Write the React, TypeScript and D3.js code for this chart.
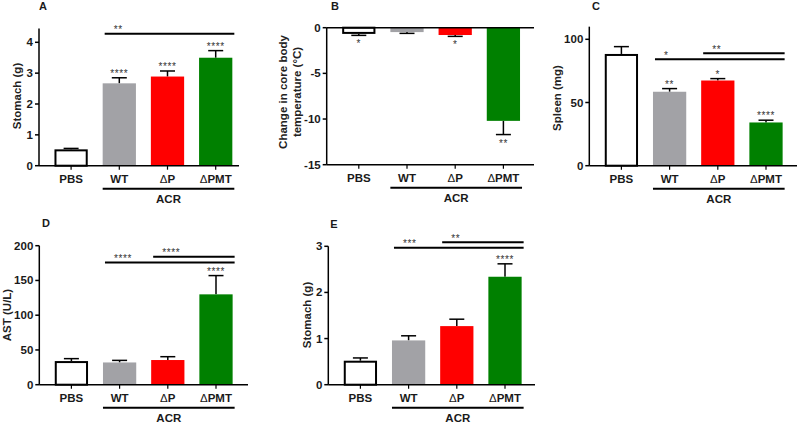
import React from "react";
import * as d3 from "d3";

// ---------- DATA ----------
const groups = ["PBS", "WT", "ΔP", "ΔPMT"];
const barColors = ["#ffffff", "#a2a2a6", "#ff0000", "#008000"];

const stomachA = [0.53, 2.67, 2.89, 3.5];
const stomachAErr = [0.03, 0.18, 0.18, 0.23];
const starsA = ["", "****", "****", "****"];
const ticksA = [0, 1, 2, 3, 4];

const tempB = [-0.68, -0.48, -0.8, -10.2];
const tempBErr = [0.16, 0.14, 0.15, 1.5];
const starsB = ["*", "", "*", "**"];
const ticksB = [0, -5, -10, -15];

const spleenC = [88.4, 58.5, 67.4, 34.2];
const spleenCErr = [5.8, 2.5, 1.5, 1.8];
const starsC = ["", "**", "*", "****"];
const ticksC = [0, 50, 100];

const astD = [34, 32, 35.5, 130];
const astDErr = [3.5, 3, 4.8, 27];
const starsD = ["", "", "", "****"];
const ticksD = [0, 50, 100, 150, 200];

const stomachE = [0.52, 0.96, 1.27, 2.34];
const stomachEErr = [0.06, 0.1, 0.15, 0.28];
const starsE = ["", "", "", "****"];
const ticksE = [0, 1, 2, 3];

const bracketsA = [{ from: "WT", to: "ΔPMT", label: "**" }];
const bracketsC = [
  { from: "WT", to: "ΔPMT", label: "*" },
  { from: "ΔP", to: "ΔPMT", label: "**" },
];
const bracketsD = [
  { from: "WT", to: "ΔPMT", label: "****" },
  { from: "ΔP", to: "ΔPMT", label: "****" },
];
const bracketsE = [
  { from: "WT", to: "ΔPMT", label: "***" },
  { from: "ΔP", to: "ΔPMT", label: "**" },
];

// ---------- LAYOUT ----------
type Bracket = { from: string; to: string; label: string };
type Cfg = {
  letter: string;
  letterX: number;
  letterY: number;
  x0: number;
  axisEnd: number;
  domain: [number, number];
  range: [number, number];
  axisTopVal: number;
  ticks: number[];
  values: number[];
  errs: number[];
  stars: string[];
  brackets: Bracket[];
  bracketVals: number[];
  title: string[];
  titleX: number[];
  titleY: number;
  negative?: boolean;
};

const panels: Cfg[] = [
  {
    letter: "A", letterX: 43, letterY: 10, x0: 39, axisEnd: 239,
    domain: [0, 4], range: [165.7, 42.3], axisTopVal: 4.45, ticks: ticksA,
    values: stomachA, errs: stomachAErr, stars: starsA,
    brackets: bracketsA, bracketVals: [4.28],
    title: ["Stomach (g)"], titleX: [21], titleY: 96,
  },
  {
    letter: "B", letterX: 335, letterY: 10, x0: 326.7, axisEnd: 534,
    domain: [-15, 0], range: [164.7, 27.7], axisTopVal: 0, ticks: ticksB,
    values: tempB, errs: tempBErr, stars: starsB,
    brackets: [], bracketVals: [],
    title: ["Change in core body", "temperature (°C)"], titleX: [287, 301], titleY: 92,
    negative: true,
  },
  {
    letter: "C", letterX: 596, letterY: 10, x0: 589.3, axisEnd: 797,
    domain: [0, 100], range: [165.7, 39.3], axisTopVal: 110, ticks: ticksC,
    values: spleenC, errs: spleenCErr, stars: starsC,
    brackets: bracketsC, bracketVals: [84.2, 88.9],
    title: ["Spleen (mg)"], titleX: [561], titleY: 98,
  },
  {
    letter: "D", letterX: 46, letterY: 227, x0: 39.3, axisEnd: 248,
    domain: [0, 200], range: [384.7, 245.7], axisTopVal: 200, ticks: ticksD,
    values: astD, errs: astDErr, stars: starsD,
    brackets: bracketsD, bracketVals: [176, 184],
    title: ["AST (U/L)"], titleX: [11], titleY: 315,
  },
  {
    letter: "E", letterX: 334, letterY: 228, x0: 328.3, axisEnd: 535,
    domain: [0, 3], range: [384.7, 246.3], axisTopVal: 3, ticks: ticksE,
    values: stomachE, errs: stomachEErr, stars: starsE,
    brackets: bracketsE, bracketVals: [2.97, 3.09],
    title: ["Stomach (g)"], titleX: [311], titleY: 315,
  },
];

const FONT = "'Liberation Sans', Arial, Helvetica, sans-serif";
const TXT = "#1a1a1a";

function CatLabel({ g }: { g: string }) {
  if (g.startsWith("Δ")) {
    return (
      <>
        <tspan fontWeight="normal">Δ</tspan>
        <tspan>{g.slice(1)}</tspan>
      </>
    );
  }
  return <>{g}</>;
}

function Panel({ c }: { c: Cfg }) {
  const y = d3.scaleLinear().domain(c.domain).range(c.range);
  const x = d3
    .scaleBand<string>()
    .domain(groups)
    .range([c.x0 + 8, c.x0 + 8 + 4 * 48.2])
    .paddingInner(0.31)
    .paddingOuter(0.155);
  const bw = x.bandwidth();
  const axisY = c.negative ? y(c.domain[0]) : y(0);
  const topY = c.negative ? y(c.domain[1]) : y(c.axisTopVal);
  const bottomY = c.negative ? y(c.domain[0]) : y(0);
  const acrX1 = x("WT") as number;
  const acrX2 = (x("ΔPMT") as number) + bw + 2;
  const capW = 15;

  return (
    <g>
      <text x={c.letterX} y={c.letterY} fontSize={11} fontWeight="bold" fill={TXT} textAnchor="middle">
        {c.letter}
      </text>
      {c.title.map((t, i) => (
        <text
          key={i}
          transform={`translate(${c.titleX[i]},${c.titleY}) rotate(-90)`}
          textAnchor="middle"
          fontSize={11.5}
          fontWeight="bold"
          fill="#222"
        >
          {t}
        </text>
      ))}
      {groups.map((g, i) => {
        const v = c.values[i];
        const y0 = y(0);
        const yv = y(v);
        const top = Math.min(y0, yv);
        const h = Math.abs(yv - y0);
        const cx = (x(g) as number) + bw / 2;
        const eEnd = y(v + (v >= 0 ? c.errs[i] : -c.errs[i]));
        const isWhite = i === 0;
        return (
          <g key={g}>
            <line x1={cx} x2={cx} y1={yv} y2={eEnd} stroke="#000" strokeWidth={1.5} />
            <line x1={cx - capW / 2} x2={cx + capW / 2} y1={eEnd} y2={eEnd} stroke="#000" strokeWidth={1.5} />
            <rect
              x={(x(g) as number) + (isWhite ? 1 : 0)}
              y={top + (isWhite && v >= 0 ? 1 : 0)}
              width={bw - (isWhite ? 2 : 0)}
              height={Math.max(0, h - (isWhite ? 1 : 0))}
              fill={barColors[i]}
              stroke={isWhite ? "#000" : "none"}
              strokeWidth={isWhite ? 2 : 0}
            />
            {c.stars[i] ? (
              <text
                x={cx}
                y={v >= 0 ? eEnd - 1 : eEnd + 12}
                textAnchor="middle"
                fontSize={10}
                letterSpacing={0.6}
                fill="#333"
              >
                {c.stars[i]}
              </text>
            ) : null}
          </g>
        );
      })}
      <line x1={c.x0} x2={c.x0} y1={topY} y2={bottomY} stroke="#000" strokeWidth={1.5} />
      {c.ticks.map((t) => (
        <g key={t}>
          <line x1={c.x0 - 4} x2={c.x0} y1={y(t)} y2={y(t)} stroke="#000" strokeWidth={1.5} />
          <text x={c.x0 - 6} y={y(t) + 4} textAnchor="end" fontSize={11.5} fontWeight="bold" fill={TXT}>
            {t}
          </text>
        </g>
      ))}
      <line x1={c.x0} x2={c.axisEnd} y1={axisY} y2={axisY} stroke="#000" strokeWidth={1.5} />
      {c.negative ? (
        <line x1={c.x0} x2={c.axisEnd} y1={y(0)} y2={y(0)} stroke="#000" strokeWidth={1.5} />
      ) : null}
      {groups.map((g) => {
        const cx = (x(g) as number) + bw / 2;
        return (
          <g key={g}>
            <line x1={cx} x2={cx} y1={axisY} y2={axisY + 4} stroke="#000" strokeWidth={1.2} />
            <text x={cx} y={axisY + 17.5} textAnchor="middle" fontSize={11.5} fontWeight="bold" fill={TXT}>
              <CatLabel g={g} />
            </text>
          </g>
        );
      })}
      <line x1={acrX1} x2={acrX2} y1={axisY + 23} y2={axisY + 23} stroke="#000" strokeWidth={2} />
      <text x={(acrX1 + acrX2) / 2} y={axisY + 37} textAnchor="middle" fontSize={11.5} fontWeight="bold" fill={TXT}>
        ACR
      </text>
      {c.brackets.map((b, i) => {
        const by = y(c.bracketVals[i]);
        const bx1 = x(b.from) as number;
        const bx2 = (x(b.to) as number) + bw + 2;
        return (
          <g key={i}>
            <line x1={bx1 + 2} x2={bx2} y1={by} y2={by} stroke="#000" strokeWidth={2} />
            <text x={bx1 + 11} y={by - 0.5} fontSize={10} letterSpacing={0.6} fill="#333">
              {b.label}
            </text>
          </g>
        );
      })}
    </g>
  );
}

export default function App() {
  return (
    <svg
      width={798}
      height={423}
      style={{ position: "absolute", left: 0, top: 0, background: "#fff" }}
      fontFamily={FONT}
    >
      <rect width={798} height={423} fill="#fff" />
      {panels.map((p) => (
        <Panel key={p.letter} c={p} />
      ))}
    </svg>
  );
}
